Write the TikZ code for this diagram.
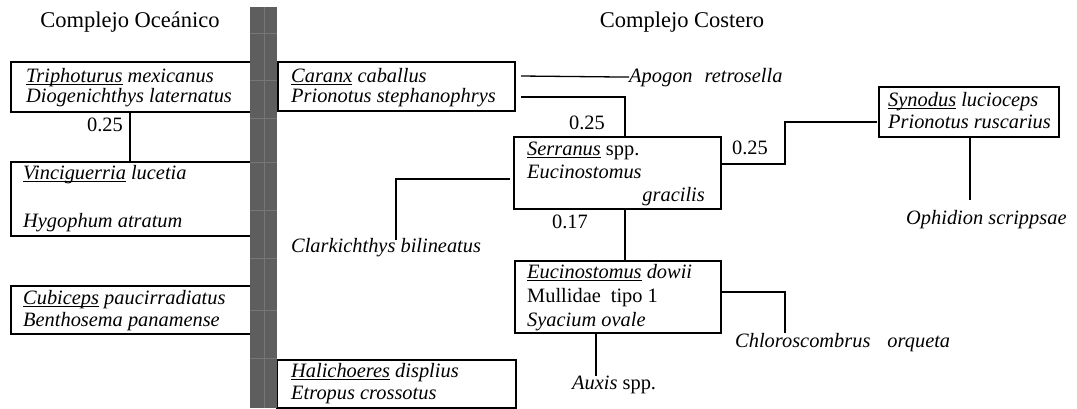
\documentclass[tikz,border=0pt]{standalone}
\usepackage{fontspec}
\setmainfont{Liberation Serif}
\newcommand\genus[1]{\setbox0\hbox{#1}\rlap{\rule[-2.6pt]{\wd0}{1.1pt}}\box0{}}
\newcommand\bodyfont{\fontsize{20.4}{24}\selectfont}
\newcommand\headfont{\fontsize{22.5}{27}\selectfont}
\definecolor{barc}{HTML}{5E5E5E}
\definecolor{barl}{HTML}{767676}
\begin{document}
\begin{tikzpicture}[x=1pt,y=-1pt,
  box/.style={draw, line width=1.7pt, rectangle, inner sep=0pt, anchor=north west},
  txt/.style={inner sep=0pt, anchor=base west, font=\bodyfont},
  txte/.style={inner sep=0pt, anchor=base east, font=\bodyfont},
  lbl/.style={inner sep=0pt, font=\bodyfont},
  head/.style={inner sep=0pt, anchor=base, font=\headfont},
  conn/.style={line width=1.3pt}]
\useasboundingbox (0,0) rectangle (1077,408);
% titles
\node[head] (hO) at (130,27) {Complejo Oceánico};
\node[head] (hC) at (682,27) {Complejo Costero};
% boxes
\node[box, minimum width=240pt, minimum height=50pt] (o1) at (10,61) {};
\node[box, minimum width=240pt, minimum height=74pt] (o2) at (10,161) {};
\node[box, minimum width=240pt, minimum height=48pt] (o3) at (10,285) {};
\node[box, minimum width=237pt, minimum height=49pt] (c1) at (277,61) {};
\node[box, minimum width=207pt, minimum height=72pt] (s) at (513,136) {};
\node[box, minimum width=206pt, minimum height=72pt] (e) at (514,260) {};
\node[box, minimum width=239pt, minimum height=48pt] (h) at (276,359) {};
\node[box, minimum width=180pt, minimum height=50pt] (syn) at (878,86) {};
% box texts
\node[txt] (t11) at (26,82) {\itshape\genus{Triphoturus} mexicanus};
\node[txt] (t12) at (26,102) {\itshape Diogenichthys laternatus};
\node[txt] (t21) at (23,179) {\itshape\genus{Vinciguerria} lucetia};
\node[txt] (t22) at (23,227) {\itshape Hygophum atratum};
\node[txt] (t31) at (23,304) {\itshape\genus{Cubiceps} paucirradiatus};
\node[txt] (t32) at (23,326) {\itshape Benthosema panamense};
\node[txt] (tc1) at (291,82) {\itshape\genus{Caranx} caballus};
\node[txt] (tc2) at (291,102) {\itshape Prionotus stephanophrys};
\node[txt] (ts1) at (527,155) {\itshape\genus{Serranus}\upshape{} spp.};
\node[txt] (ts2) at (527,178) {\itshape Eucinostomus};
\node[txte] (ts3) at (705,201) {\itshape gracilis};
\node[txt] (te1) at (527,278) {\itshape\genus{Eucinostomus} dowii};
\node[txt] (te2) at (527,302) {Mullidae\hspace{10pt}tipo 1};
\node[txt] (te3) at (527,326) {\itshape Syacium ovale};
\node[txt] (th1) at (291,377) {\itshape\genus{Halichoeres} displius};
\node[txt] (th2) at (291,399) {\itshape Etropus crossotus};
\node[txt] (ty1) at (888,106) {\itshape\genus{Synodus} lucioceps};
\node[txt] (ty2) at (888,128) {\itshape Prionotus ruscarius};
% free species
\node[txt] (apo) at (629,82) {\itshape Apogon\hspace{12pt}retrosella};
\node[txt] (clark) at (291,252) {\itshape Clarkichthys bilineatus};
\node[txt] (oph) at (906,224) {\itshape Ophidion scrippsae};
\node[txt] (chl) at (735,347) {\itshape Chloroscombrus\hspace{17pt}orqueta};
\node[txt] (aux) at (572,389) {\itshape Auxis\upshape{} spp.};
% values
\node[lbl] (v1) at (105,125) {0.25};
\node[lbl] (v2) at (587,123) {0.25};
\node[lbl] (v3) at (750,148) {0.25};
\node[lbl] (v4) at (570,222) {0.17};
% connector coordinates
\coordinate (xo) at (130,0);
\coordinate (ap) at (521,76);
\coordinate (pr) at (521,97);
\coordinate (jx) at (625,0);
\coordinate (sl) at (510,179);
\coordinate (cl) at (396,240);
\coordinate (sr) at (722,164);
\coordinate (syl) at (877,122);
\coordinate (opa) at (970,138);
\coordinate (opb) at (970,200);
\coordinate (ch1) at (722,292);
\coordinate (ch2) at (785,333);
\coordinate (ax) at (596,376);
% connectors
\draw[conn] (o1.south -| xo) -- (o2.north -| xo);
\draw[conn] (ap) -- (apo.west);
\draw[conn] (pr) -| (s.north -| jx);
\draw[conn] (s.south -| jx) -- (e.north -| jx);
\draw[conn] (sl) -| (cl);
\draw[conn] (sr) -| ++(63,-42) -- (syl);
\draw[conn] (opa) -- (opb);
\draw[conn] (ch1) -| (ch2);
\draw[conn] (e.south -| ax) -- (ax);
% central bar
\fill[barc] (250,7) rectangle (277,408);
\draw[barl, line width=0.6pt] (264,7) -- (264,408);
\foreach \yy in {33,80,118,162,210,258,310,358}
  \draw[barl, line width=0.6pt] (250,\yy) -- (277,\yy);
\end{tikzpicture}
\end{document}
